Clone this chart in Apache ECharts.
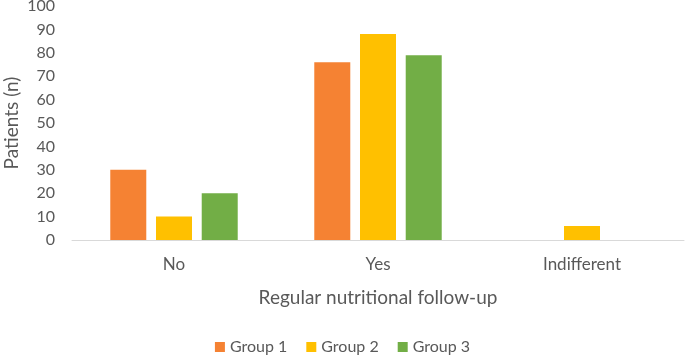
<!DOCTYPE html>
<html><head><meta charset="utf-8">
<script src="https://cdn.jsdelivr.net/npm/echarts@6/dist/echarts.min.js"></script>
<style>html,body{margin:0;padding:0;background:#fff}#c{width:685px;height:357px}</style>
</head><body><div id="c"></div>
<script>
const categories = ['No', 'Yes', 'Indifferent'];
const group1 = [30, 76, 0];
const group2 = [10, 88, 6];
const group3 = [20, 79, 0];
const seriesNames = ['Group 1', 'Group 2', 'Group 3'];
const colors = ['#F58233', '#FFC000', '#72AE46'];
const font = 'Lato, "Open Sans", sans-serif';
const chart = echarts.init(document.getElementById('c'), null, {renderer: 'canvas'});
const data = [group1, group2, group3];
chart.setOption({
  animation: false,
  textStyle: {fontFamily: font},
  grid: {left: 72, right: 1, top: 6, bottom: 117, containLabel: false, outerBoundsMode: 'none'},
  legend: {
    top: 334, left: 'center', itemWidth: 10, itemHeight: 10, itemGap: 19,
    icon: 'rect',
    textStyle: {color: '#595959', fontSize: 16, fontFamily: font},
    data: seriesNames
  },
  xAxis: {
    type: 'category', data: categories,
    name: 'Regular nutritional follow-up', nameLocation: 'middle', nameGap: 48,
    nameMoveOverlap: false,
    nameTextStyle: {color: '#595959', fontSize: 19, fontFamily: font},
    axisLine: {lineStyle: {color: '#D9D9D9', width: 1}},
    axisTick: {show: false},
    axisLabel: {color: '#595959', fontSize: 17, margin: 16, fontFamily: font}
  },
  yAxis: {
    type: 'value', min: 0, max: 100, interval: 10,
    name: 'Patients (n)', nameLocation: 'middle', nameGap: 51,
    nameMoveOverlap: false,
    nameTextStyle: {color: '#595959', fontSize: 19, fontFamily: font},
    axisLine: {show: false}, axisTick: {show: false},
    splitLine: {show: false},
    axisLabel: {color: '#595959', fontSize: 16, margin: 17, fontFamily: font}
  },
  series: seriesNames.map((n, i) => ({
    name: n, type: 'bar', data: data[i],
    barWidth: 36, barGap: '27%',
    itemStyle: {color: colors[i]}
  }))
});
</script></body></html>
